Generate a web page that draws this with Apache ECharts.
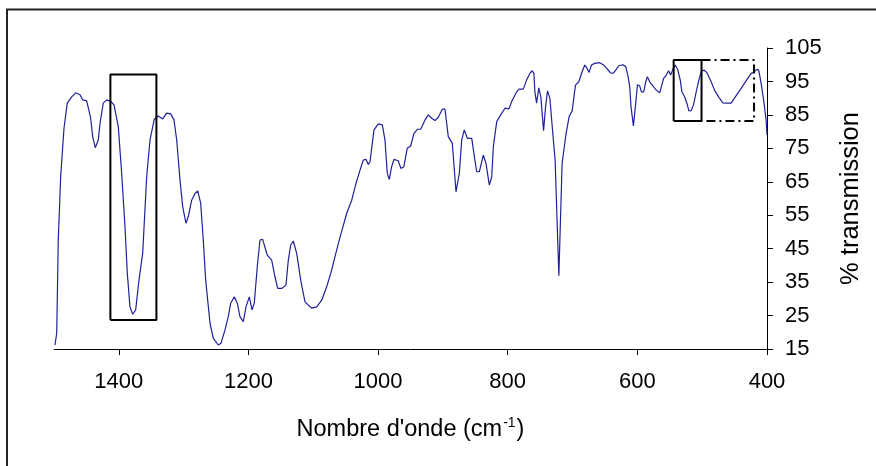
<!DOCTYPE html>
<html>
<head>
<meta charset="utf-8">
<script src="https://cdn.jsdelivr.net/npm/echarts@6/dist/echarts.min.js"></script>
<style>
  html, body { margin: 0; padding: 0; background: #fff; }
  #chart { width: 876px; height: 466px; }
</style>
</head>
<body>
<div id="chart"></div>
<script>
// Wavenumbers (cm-1) and % transmission
const wavenumber = [
  1498.5, 1495.8, 1493.4, 1489.7, 1484.6, 1479.5, 1472.7, 1466.5, 1459.9, 1455.7,
  1449.6, 1443.4, 1440.3, 1436.3, 1431.7, 1429, 1424, 1418.7, 1412.5, 1407.4,
  1400.8, 1395.6, 1390.5, 1386.9, 1382.8, 1378.6, 1374, 1368.9, 1363.2, 1357,
  1351.9, 1345.3, 1339.1, 1332.3, 1326.2, 1320, 1314.9, 1310.7, 1305.6, 1301.4,
  1296.4, 1292.8, 1287.6, 1282.5, 1278.3, 1273.7, 1269.7, 1266, 1259.3, 1254.2,
  1246.5, 1242.4, 1236.2, 1231.1, 1227.4, 1221.8, 1217.2, 1213.1, 1208, 1203.8,
  1198.7, 1194.5, 1191, 1186.4, 1182.2, 1178.1, 1171, 1164.2, 1159.1, 1154.9,
  1148.7, 1142.1, 1138.5, 1134.8, 1130.8, 1125.6, 1119.4, 1112.8, 1102.4, 1094.7,
  1087, 1079.3, 1071.6, 1066.5, 1058.8, 1048.4, 1040.7, 1034.1, 1027.9, 1022.8,
  1018.7, 1015.1, 1012.5, 1009.9, 1006.3, 999.7, 993.5, 989.4, 985.8, 982.7,
  979.1, 975.5, 968.9, 964.8, 960.2, 955.1, 949.8, 944.6, 939.5, 934.3,
  927.6, 922.5, 917.3, 912.2, 907.1, 900.9, 896.8, 891.7, 885.5, 879.8,
  874.7, 871, 867, 862.3, 855.5, 851.5, 847.8, 843.8, 837.7, 833.5,
  828.4, 824.7, 822.2, 817, 810.8, 804.2, 798.1, 793.9, 786.2, 782.7,
  776, 770.9, 765.8, 762.2, 759.6, 758.1, 755.5, 752, 748.9, 744.7,
  741.6, 738.6, 735, 730.9, 726.9, 721.1, 716.1, 710.3, 705.3, 700.6,
  695.5, 690.3, 685.3, 681.1, 677.6, 674.5, 670.8, 665.8, 658.1, 651.9,
  646.2, 641.6, 637.5, 633.4, 628.7, 622.1, 618, 614.4, 611.8, 609.8,
  606.1, 602.5, 599.9, 596.4, 593.8, 590.2, 587.1, 584.5, 581, 575.9,
  570.7, 565.6, 563, 559.5, 555.4, 551.8, 548.7, 545.2, 541.5, 537.5,
  533.8, 531.3, 527.2, 523.6, 520.5, 516.9, 513.4, 509.2, 505.2, 501.5,
  497.5, 492.8, 486.1, 481, 474.4, 468.2, 461.5, 455.3, 450.2, 442.5,
  434.8, 428.6, 424.5, 420.5, 415.9, 412.8, 409.1, 405.6, 401.4, 400
];
const transmission = [
  16.2, 19.7, 47.6, 66.5, 81, 88.5, 90.4, 91.6, 91, 89.5,
  89.2, 84, 78.5, 75.2, 77.5, 82.5, 88.5, 89.5, 89, 88,
  81.5, 67.5, 51.6, 37.6, 27.6, 25.4, 26.7, 35.6, 43.6, 66.5,
  77.5, 83.7, 84.7, 83.8, 85.5, 85.3, 83.5, 77.5, 65.5, 57.5,
  52.6, 54.6, 59.5, 61.5, 62.3, 58.6, 47.6, 35.6, 22.7, 18.2,
  16.2, 16.7, 20.7, 24.7, 28.7, 30.6, 28.7, 24.7, 23.2, 27.6,
  30.6, 26.7, 28.7, 39.6, 47.6, 47.8, 43.1, 41.6, 36.6, 33.1,
  33.1, 34.1, 41.6, 46.1, 47.3, 43.6, 35.6, 29.1, 27.2, 27.6,
  29.6, 33.6, 38.6, 42.6, 48.4, 55.6, 59.5, 64.5, 68.5, 71.5,
  71.7, 70.2, 71, 75, 80.5, 82.3, 82, 77.5, 67.5, 65.7,
  69.5, 71.7, 71.3, 69, 69.5, 75, 75.7, 79.5, 80.7, 80.7,
  83.5, 85, 84, 83.3, 84.3, 86.7, 86.7, 78.5, 76.5, 62,
  67.5, 77.5, 80.5, 78, 78, 72.5, 68, 68, 73, 70.5,
  64, 66.5, 75.5, 83, 85, 87, 86.8, 89, 91.9, 92.7,
  92.7, 95.4, 97.4, 98.2, 97.4, 91.9, 88.5, 93.1, 90.4, 80.3,
  87.4, 92.2, 90, 80.5, 71.5, 36.9, 70.5, 79, 84.5, 86.2,
  93.9, 94.9, 97.9, 99.9, 98.9, 97.7, 99.9, 100.4, 100.6, 99.9,
  98.7, 97.6, 97.4, 98.4, 99.7, 100, 99.4, 96.6, 93.4, 87.4,
  81.7, 88.5, 94, 93.7, 91.9, 91.9, 94.9, 96.4, 94.9, 93.6,
  92.4, 91.6, 93.4, 95.9, 96.9, 98.2, 96.9, 98.6, 99.9, 98.4,
  95.4, 91.9, 90.4, 88.5, 86.2, 86.3, 88, 91.9, 95.4, 97.9,
  98.4, 97.7, 94.9, 92.4, 90.3, 88.6, 88.5, 88.5, 90, 92.2,
  94.4, 96.2, 97.4, 97.7, 98.6, 98.4, 94.4, 90, 83.5, 79
];

// Tick labels
const xTicks = [1400, 1200, 1000, 800, 600, 400];
const yTicks = [15, 25, 35, 45, 55, 65, 75, 85, 95, 105];

// Annotation boxes (data coordinates): [x1, x2, yBottom, yTop]
const box1 = [1413, 1342, 23.7, 97.1];
const box2 = [544, 501, 83.2, 101.4];
const box3 = [501, 420, 83.2, 101.4];

const FONT = "'Liberation Sans', Arial, sans-serif";

const spectrum = wavenumber.map((w, i) => [w, transmission[i]]);
function closedBox(b) {
  return [[b[0], b[2]], [b[1], b[2]], [b[1], b[3]], [b[0], b[3]], [b[0], b[2]]];
}
function openBox(b) {
  return [[b[0], b[3]], [b[1], b[3]], [b[1], b[2]], [b[0], b[2]]];
}

const chart = echarts.init(document.getElementById('chart'), null, { renderer: 'canvas' });
chart.setOption({
  animation: false,
  backgroundColor: '#fff',
  textStyle: { fontFamily: FONT },
  graphic: [{
    type: 'rect',
    shape: { x: 7, y: 9.5, width: 1000, height: 1000 },
    style: { fill: 'none', stroke: '#222', lineWidth: 2 },
    silent: true, z: 0
  }],
  grid: { left: 54, right: 109, top: 48, bottom: 117 },
  xAxis: {
    type: 'value',
    min: 400, max: 1500,
    inverse: true,
    name: "{a|Nombre d'onde (cm}{s|-1}{a|)}",
    nameLocation: 'middle',
    nameGap: 67,
    nameTextStyle: {
      rich: {
        a: { fontSize: 23.5, fontFamily: FONT, color: '#000', lineHeight: 27 },
        s: { fontSize: 14, fontFamily: FONT, color: '#000', verticalAlign: 'top', lineHeight: 27, padding: [0, 1, 0, 1] }
      }
    },
    axisLine: { show: true, onZero: false, lineStyle: { color: '#000', width: 1 } },
    axisTick: { show: true, inside: false, length: 6, customValues: xTicks, lineStyle: { color: '#000' } },
    axisLabel: {
      customValues: xTicks, fontSize: 22, fontFamily: FONT, color: '#000', margin: 22,
      formatter: (v) => String(v)
    },
    splitLine: { show: false }
  },
  yAxis: {
    type: 'value',
    position: 'right',
    min: 15, max: 105,
    name: '% transmission',
    nameLocation: 'middle',
    nameRotate: 90,
    nameGap: 71,
    nameTextStyle: { fontSize: 25.5, fontFamily: FONT, color: '#000' },
    axisLine: { show: true, lineStyle: { color: '#000', width: 1 } },
    axisTick: { show: true, inside: false, length: 6, customValues: yTicks, lineStyle: { color: '#000' } },
    axisLabel: {
      customValues: yTicks, fontSize: 22, fontFamily: FONT, color: '#000', margin: 18,
      formatter: (v) => String(v)
    },
    splitLine: { show: false }
  },
  series: [
    {
      type: 'line',
      data: spectrum,
      symbol: 'none',
      lineStyle: { color: '#20209c', width: 1.2 },
      z: 2
    },
    {
      type: 'line',
      data: closedBox(box1),
      symbol: 'none',
      silent: true,
      lineStyle: { color: '#000', width: 2 },
      z: 3
    },
    {
      type: 'line',
      data: closedBox(box2),
      symbol: 'none',
      silent: true,
      lineStyle: { color: '#000', width: 2 },
      z: 3
    },
    {
      type: 'line',
      data: openBox(box3),
      symbol: 'none',
      silent: true,
      lineStyle: { color: '#000', width: 2, type: [9, 4, 2, 4] },
      z: 3
    }
  ]
});
</script>
</body>
</html>
